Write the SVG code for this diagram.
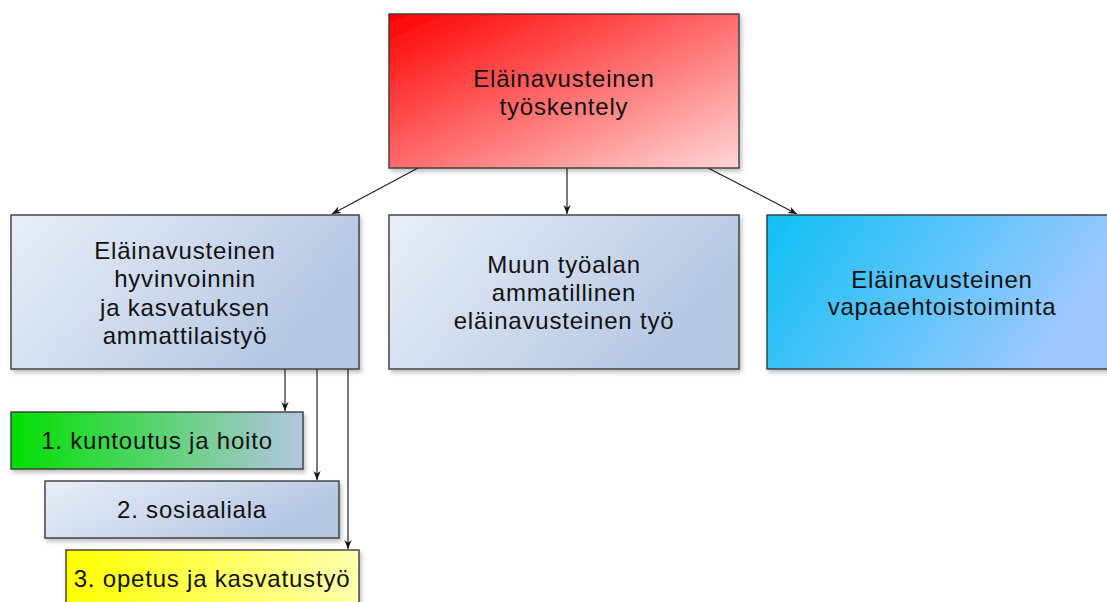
<svg xmlns="http://www.w3.org/2000/svg" width="1107" height="602" viewBox="0 0 1107 602">
<style>
.box{stroke:#3a3a3a;stroke-width:1.4}
.t{font-family:"Liberation Sans",Arial,sans-serif;font-size:24px;letter-spacing:0.8px;fill:#111;text-anchor:middle}
.c{stroke:#222;stroke-width:1.2;fill:none;marker-end:url(#ah)}
</style>
<defs>
<linearGradient id="gRed" x1="0" y1="0" x2="1" y2="1">
<stop offset="0" stop-color="#ff0000"/><stop offset="1" stop-color="#ffd6d6"/>
</linearGradient>
<linearGradient id="gBlue" x1="0" y1="0" x2="1" y2="0.4">
<stop offset="0" stop-color="#e9eef8"/><stop offset="1" stop-color="#b5c7e3"/>
</linearGradient>
<linearGradient id="gCyan" x1="0" y1="0" x2="1" y2="0.3">
<stop offset="0" stop-color="#0ec0f4"/><stop offset="1" stop-color="#a0c8ff"/>
</linearGradient>
<linearGradient id="gGreen" x1="0" y1="0" x2="1" y2="0">
<stop offset="0" stop-color="#00e000"/><stop offset="1" stop-color="#b3c6e0"/>
</linearGradient>
<linearGradient id="gYellow" x1="0" y1="0" x2="1" y2="0">
<stop offset="0" stop-color="#ffff00"/><stop offset="1" stop-color="#ffffb0"/>
</linearGradient>
<filter id="sh" x="-5%" y="-5%" width="115%" height="120%">
<feDropShadow dx="2" dy="3" stdDeviation="2" flood-color="#000" flood-opacity="0.25"/>
</filter>
<marker id="ah" viewBox="0 0 10 10" refX="10" refY="5" markerWidth="9" markerHeight="9" markerUnits="userSpaceOnUse" orient="auto">
<path d="M0,1 L10,5 L0,9 L3,5 z" fill="#111"/>
</marker>
</defs>
<rect width="1107" height="602" fill="#fff"/>
<g id="connectors">
<line class="c" x1="418" y1="168" x2="332" y2="214"/>
<line class="c" x1="567" y1="168" x2="567" y2="214"/>
<line class="c" x1="708" y1="168" x2="797" y2="214"/>
<line class="c" x1="285" y1="369" x2="285" y2="411"/>
<line class="c" x1="317" y1="369" x2="317" y2="480"/>
<line class="c" x1="348" y1="369" x2="348" y2="549"/>
</g>
<g id="top">
<rect class="box" x="389" y="14" width="350" height="154" fill="url(#gRed)" filter="url(#sh)"/>
<text class="t" x="564" y="87">Eläinavusteinen</text>
<text class="t" x="564" y="115">työskentely</text>
</g>
<g id="hyvinvointi">
<rect class="box" x="11" y="215" width="348" height="154" fill="url(#gBlue)" filter="url(#sh)"/>
<text class="t" x="185" y="259">Eläinavusteinen</text>
<text class="t" x="185" y="287">hyvinvoinnin</text>
<text class="t" x="185" y="316">ja kasvatuksen</text>
<text class="t" x="185" y="344">ammattilaistyö</text>
</g>
<g id="muu">
<rect class="box" x="389" y="215" width="350" height="154" fill="url(#gBlue)" filter="url(#sh)"/>
<text class="t" x="564" y="273">Muun työalan</text>
<text class="t" x="564" y="301">ammatillinen</text>
<text class="t" x="564" y="329">eläinavusteinen työ</text>
</g>
<g id="vapaaehtois">
<rect class="box" x="767" y="215" width="350" height="154" fill="url(#gCyan)" filter="url(#sh)"/>
<text class="t" x="942" y="288">Eläinavusteinen</text>
<text class="t" x="942" y="315">vapaaehtoistoiminta</text>
</g>
<g id="kuntoutus">
<rect class="box" x="11" y="412" width="292" height="57" fill="url(#gGreen)" filter="url(#sh)"/>
<text class="t" x="157" y="449">1. kuntoutus ja hoito</text>
</g>
<g id="sosiaaliala">
<rect class="box" x="45" y="481" width="294" height="57" fill="url(#gBlue)" filter="url(#sh)"/>
<text class="t" x="192" y="518">2. sosiaaliala</text>
</g>
<g id="opetus">
<rect class="box" x="66" y="550" width="293" height="60" fill="url(#gYellow)" filter="url(#sh)"/>
<text class="t" x="212" y="587">3. opetus ja kasvatustyö</text>
</g>
</svg>
